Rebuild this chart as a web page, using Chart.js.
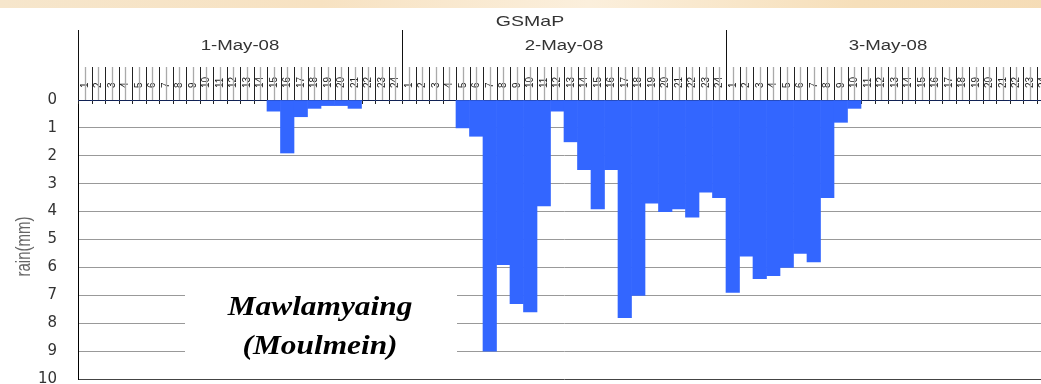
<!DOCTYPE html>
<html><head><meta charset="utf-8">
<script src="https://cdn.jsdelivr.net/npm/chart.js@4.4.1/dist/chart.umd.min.js"></script>
<style>
html,body{margin:0;padding:0;overflow:hidden;background:#fff;width:1041px;height:384px}
#wrap{position:absolute;left:0;top:0;width:1070px;height:384px}
canvas{display:block}
</style></head><body>
<div id="wrap"><canvas id="c" width="1070" height="384"></canvas></div>
<script>
// ---- data ----
const chartTitle = 'GSMaP';
const yTitle = 'rain(mm)';
const days = ['1-May-08', '2-May-08', '3-May-08'];
const hourLabels = ['1','2','3','4','5','6','7','8','9','10','11','12','13','14','15','16','17','18','19','20','21','22','23','24'];
const yTicks = [0, 1, 2, 3, 4, 5, 6, 7, 8, 9, 10];
const rainDay1 = [0,0,0,0,0,0,0,0,0,0,0,0,0,0, 0.4,1.9,0.6,0.3,0.2,0.2,0.3, 0,0,0];
const rainDay2 = [0,0,0,0, 1.0,1.3,9.0,5.9,7.3,7.6,3.8,0.4,1.5,2.5,3.9,2.5,7.8,7.0,3.7,4.0,3.9,4.2,3.3,3.5];
const rainDay3 = [6.9,5.6,6.4,6.3,6.0,5.5,5.8,3.5,0.8,0.3, 0,0,0,0,0,0,0,0,0,0,0,0,0,0];
const stationName = ['Mawlamyaing', '(Moulmein)'];

// ---- build ----
const categories = [];
days.forEach(() => hourLabels.forEach(h => categories.push(h)));
const rain = rainDay1.concat(rainDay2, rainDay3);

function stretchedText(ctx, text, x, y, sx) {
  ctx.save();
  ctx.translate(x, y);
  ctx.scale(sx, 1);
  ctx.fillText(text, 0, 0);
  ctx.restore();
}

const deco = {
  id: 'deco',
  beforeDraw(chart) {
    const ctx = chart.ctx;
    ctx.save();
    ctx.fillStyle = '#fff';
    ctx.fillRect(0, 0, chart.width, chart.height);
    const g = ctx.createLinearGradient(0, 0, chart.width, 0);
    g.addColorStop(0, '#f6e6cc');
    g.addColorStop(0.3, '#f7e2c2');
    g.addColorStop(0.55, '#fbefdc');
    g.addColorStop(0.8, '#f6dfba');
    g.addColorStop(1, '#f5dcb6');
    ctx.fillStyle = g;
    ctx.fillRect(0, 0, chart.width, 8);
    ctx.restore();
  },
  beforeDatasetsDraw(chart) {
    const { ctx, chartArea: a, scales: { x } } = chart;
    const n = categories.length;
    const w = (a.right - a.left) / n;
    ctx.save();
    ctx.strokeStyle = '#aaaaaa';
    ctx.lineWidth = 1.3;
    ctx.beginPath();
    for (let i = 0; i < n; i++) {
      const px = Math.round(x.getPixelForValue(i)) + 0.5;
      ctx.moveTo(px, a.top - 33); ctx.lineTo(px, a.top);
    }
    ctx.stroke();
    ctx.strokeStyle = '#222';
    ctx.lineWidth = 1;
    ctx.beginPath();
    for (let i = 0; i <= n; i++) {
      const px = Math.round(a.left + i * w) + 0.5;
      ctx.moveTo(px, a.top - 33); ctx.lineTo(px, a.top + 4);
    }
    ctx.stroke();
    ctx.strokeStyle = '#111';
    ctx.beginPath();
    for (let d = 0; d <= days.length; d++) {
      const px = Math.round(a.left + d * hourLabels.length * w) + 0.5;
      ctx.moveTo(px, a.top - 70); ctx.lineTo(px, a.top);
    }
    ctx.stroke();
    ctx.restore();
  },
  afterDraw(chart) {
    const { ctx, chartArea: a } = chart;
    const n = categories.length;
    const w = (a.right - a.left) / n;
    ctx.save();
    ctx.textAlign = 'center';
    ctx.textBaseline = 'alphabetic';
    // title
    ctx.fillStyle = '#333';
    ctx.font = '15px "Liberation Sans", Arial, sans-serif';
    stretchedText(ctx, chartTitle, 530, a.top - 74, 1.3);
    // day labels
    ctx.font = '14px "Liberation Sans", Arial, sans-serif';
    days.forEach((d, k) => {
      const cx = a.left + (k * hourLabels.length + hourLabels.length / 2) * w;
      stretchedText(ctx, d, cx, a.top - 50, 1.33);
    });
    // y axis title (rotated, stretched like the source)
    ctx.fillStyle = '#666';
    ctx.font = '15px "Liberation Sans", Arial, sans-serif';
    ctx.save();
    ctx.translate(24, (a.top + a.bottom) / 2 + 7);
    ctx.scale(1.35, 1);
    ctx.rotate(-Math.PI / 2);
    ctx.textBaseline = 'middle';
    ctx.fillText(yTitle, 0, 0);
    ctx.restore();
    // station label box
    const bx = a.left + 107, bw = 272;
    ctx.fillStyle = '#fff';
    ctx.fillRect(bx, a.top + 181, bw, 82);
    ctx.fillStyle = '#000';
    ctx.font = 'italic bold 28px "Liberation Serif", "Times New Roman", serif';
    const cx = bx + bw / 2 - 1;
    stretchedText(ctx, stationName[0], cx, a.top + 215, 1.12);
    stretchedText(ctx, stationName[1], cx, a.top + 254, 1.12);
    ctx.restore();
  }
};

new Chart(document.getElementById('c'), {
  type: 'bar',
  data: {
    labels: categories,
    datasets: [{
      data: rain,
      backgroundColor: '#3366ff',
      borderWidth: 0,
      barPercentage: 1,
      categoryPercentage: 1
    }]
  },
  options: {
    responsive: false,
    animation: false,
    events: [],
    layout: { padding: { left: 0, right: 20, top: 0, bottom: 5 } },
    plugins: { legend: { display: false }, tooltip: { enabled: false }, title: { display: false } },
    scales: {
      x: {
        position: 'top',
        grid: { display: false, drawTicks: false },
        border: { display: false },
        ticks: {
          autoSkip: false, maxRotation: 90, minRotation: 90, padding: 12, labelOffset: 12,
          font: { size: 10, family: '"Liberation Sans", Arial, sans-serif' }, color: '#222'
        },
        afterFit(s) { s.height = 100; }
      },
      y: {
        reverse: true, min: 0, max: 10,
        afterBuildTicks(s) { s.ticks = yTicks.map(v => ({ value: v })); },
        ticks: { padding: 21, font: { size: 15, family: '"DejaVu Sans", sans-serif' }, color: '#333' },
        grid: {
          drawTicks: false,
          lineWidth: 1,
          color: c => c.tick && c.tick.value === 0 ? '#000' : (c.tick && c.tick.value === 10 ? '#444' : '#999')
        },
        border: { display: true, color: '#000', width: 1 },
        title: { display: false },
        afterFit(s) { s.width = 78; s.paddingTop = 0; s.paddingBottom = 0; }
      }
    }
  },
  plugins: [deco]
});
</script>
</body></html>
